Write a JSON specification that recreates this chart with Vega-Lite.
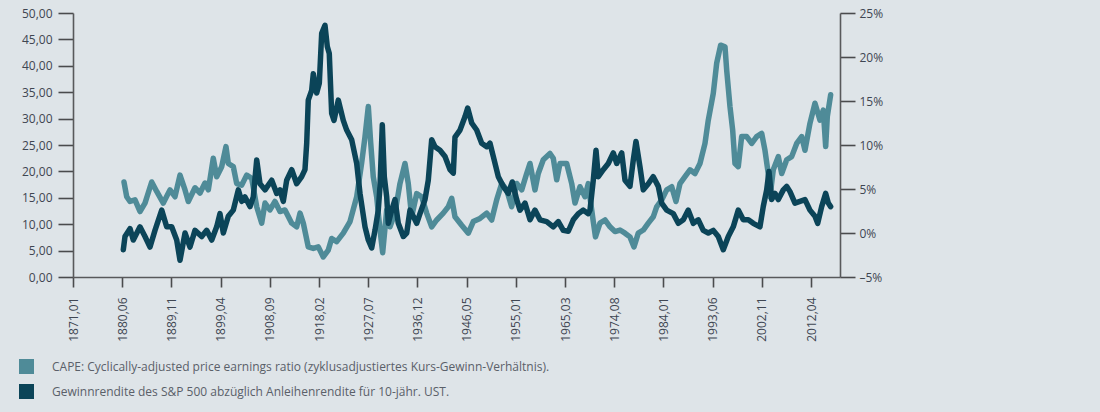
{
  "$schema": "https://vega.github.io/schema/vega-lite/v6.json",
  "autosize": {"type": "none"},
  "padding": {"left": 73, "top": 13, "right": 260, "bottom": 135},
  "width": 767,
  "height": 264,
  "background": "#dee4e8",
  "config": {
    "view": {"stroke": null},
    "axis": {
      "domainColor": "#58595b",
      "domainWidth": 1.6,
      "tickColor": "#4a4b4d",
      "tickWidth": 1.6,
      "tickSize": 15,
      "grid": false,
      "labelFont": "Open Sans",
      "labelFontSize": 12,
      "labelColor": "#3f4652",
      "title": null
    },
    "legend": {
      "labelFont": "Open Sans",
      "labelFontSize": 12,
      "labelColor": "#5a6069"
    }
  },
  "datasets": {
    "cape": [
      {"jahr": 1880.76, "wert": 18.0}, {"jahr": 1881.28, "wert": 15.2}, {"jahr": 1881.91, "wert": 14.3},
      {"jahr": 1882.87, "wert": 14.6}, {"jahr": 1883.82, "wert": 12.4}, {"jahr": 1884.78, "wert": 14.0},
      {"jahr": 1886.06, "wert": 18.0}, {"jahr": 1887.02, "wert": 16.2}, {"jahr": 1888.28, "wert": 14.0},
      {"jahr": 1889.56, "wert": 16.5}, {"jahr": 1890.52, "wert": 15.2}, {"jahr": 1891.48, "wert": 19.3},
      {"jahr": 1892.44, "wert": 16.5}, {"jahr": 1893.07, "wert": 14.3}, {"jahr": 1894.35, "wert": 16.9},
      {"jahr": 1895.31, "wert": 15.9}, {"jahr": 1896.26, "wert": 17.8}, {"jahr": 1896.9, "wert": 16.5},
      {"jahr": 1897.85, "wert": 22.5}, {"jahr": 1898.5, "wert": 19.0}, {"jahr": 1899.46, "wert": 20.9},
      {"jahr": 1900.28, "wert": 24.7}, {"jahr": 1900.72, "wert": 21.5}, {"jahr": 1901.68, "wert": 20.9},
      {"jahr": 1902.33, "wert": 17.7}, {"jahr": 1903.29, "wert": 17.4}, {"jahr": 1904.24, "wert": 19.3},
      {"jahr": 1905.2, "wert": 18.7}, {"jahr": 1906.16, "wert": 13.3}, {"jahr": 1907.12, "wert": 10.2},
      {"jahr": 1907.75, "wert": 14.0}, {"jahr": 1908.7, "wert": 12.7}, {"jahr": 1909.66, "wert": 14.3},
      {"jahr": 1910.62, "wert": 12.4}, {"jahr": 1911.57, "wert": 12.7}, {"jahr": 1912.86, "wert": 10.2},
      {"jahr": 1913.81, "wert": 9.5}, {"jahr": 1914.45, "wert": 12.1}, {"jahr": 1915.08, "wert": 10.2},
      {"jahr": 1916.03, "wert": 5.7}, {"jahr": 1916.99, "wert": 5.4}, {"jahr": 1917.95, "wert": 5.7},
      {"jahr": 1918.9, "wert": 3.8}, {"jahr": 1919.86, "wert": 5.1}, {"jahr": 1920.51, "wert": 7.3},
      {"jahr": 1921.47, "wert": 6.7}, {"jahr": 1922.73, "wert": 8.3}, {"jahr": 1924.02, "wert": 10.5},
      {"jahr": 1925.3, "wert": 15.2}, {"jahr": 1926.25, "wert": 21.6}, {"jahr": 1926.89, "wert": 26.6},
      {"jahr": 1927.52, "wert": 32.3}, {"jahr": 1927.98, "wert": 25.4}, {"jahr": 1928.47, "wert": 19.0},
      {"jahr": 1929.12, "wert": 15.2}, {"jahr": 1929.76, "wert": 8.9}, {"jahr": 1930.27, "wert": 4.6},
      {"jahr": 1931.04, "wert": 12.7}, {"jahr": 1931.67, "wert": 9.5}, {"jahr": 1932.63, "wert": 12.1},
      {"jahr": 1933.58, "wert": 17.7}, {"jahr": 1934.54, "wert": 21.5}, {"jahr": 1935.17, "wert": 17.7},
      {"jahr": 1935.82, "wert": 11.4}, {"jahr": 1936.78, "wert": 15.8}, {"jahr": 1937.74, "wert": 15.2},
      {"jahr": 1938.69, "wert": 12.1}, {"jahr": 1939.65, "wert": 9.5}, {"jahr": 1940.61, "wert": 10.8},
      {"jahr": 1941.87, "wert": 12.1}, {"jahr": 1942.83, "wert": 13.3}, {"jahr": 1943.48, "wert": 14.9},
      {"jahr": 1944.11, "wert": 11.4}, {"jahr": 1945.39, "wert": 9.8}, {"jahr": 1946.66, "wert": 8.3},
      {"jahr": 1947.61, "wert": 10.5}, {"jahr": 1948.9, "wert": 11.1}, {"jahr": 1950.18, "wert": 12.1},
      {"jahr": 1951.13, "wert": 10.8}, {"jahr": 1952.09, "wert": 14.6}, {"jahr": 1953.05, "wert": 17.7},
      {"jahr": 1954.01, "wert": 16.5}, {"jahr": 1954.96, "wert": 13.3}, {"jahr": 1955.92, "wert": 17.7},
      {"jahr": 1956.88, "wert": 16.5}, {"jahr": 1957.83, "wert": 19.6}, {"jahr": 1958.47, "wert": 21.5},
      {"jahr": 1959.42, "wert": 16.5}, {"jahr": 1960.05, "wert": 19.6}, {"jahr": 1961.01, "wert": 22.2},
      {"jahr": 1962.29, "wert": 23.4}, {"jahr": 1962.92, "wert": 22.5}, {"jahr": 1963.58, "wert": 18.4},
      {"jahr": 1964.21, "wert": 21.5}, {"jahr": 1965.49, "wert": 21.5}, {"jahr": 1966.45, "wert": 17.7},
      {"jahr": 1967.08, "wert": 14.0}, {"jahr": 1968.03, "wert": 17.1}, {"jahr": 1968.99, "wert": 15.2},
      {"jahr": 1969.62, "wert": 17.7}, {"jahr": 1970.1, "wert": 14.0}, {"jahr": 1970.58, "wert": 10.5},
      {"jahr": 1971.0, "wert": 7.6}, {"jahr": 1971.86, "wert": 10.2}, {"jahr": 1972.82, "wert": 10.8},
      {"jahr": 1973.78, "wert": 9.5}, {"jahr": 1974.73, "wert": 8.6}, {"jahr": 1975.69, "wert": 8.9},
      {"jahr": 1976.65, "wert": 8.3}, {"jahr": 1977.6, "wert": 7.6}, {"jahr": 1978.37, "wert": 5.7},
      {"jahr": 1979.19, "wert": 8.3}, {"jahr": 1980.15, "wert": 8.9}, {"jahr": 1981.11, "wert": 10.2},
      {"jahr": 1982.06, "wert": 11.4}, {"jahr": 1982.71, "wert": 13.3}, {"jahr": 1983.67, "wert": 14.6},
      {"jahr": 1984.63, "wert": 16.5}, {"jahr": 1985.59, "wert": 17.1}, {"jahr": 1986.41, "wert": 14.3},
      {"jahr": 1987.17, "wert": 17.7}, {"jahr": 1988.13, "wert": 19.0}, {"jahr": 1989.09, "wert": 20.3},
      {"jahr": 1990.04, "wert": 19.6}, {"jahr": 1991.0, "wert": 21.5}, {"jahr": 1991.96, "wert": 25.3},
      {"jahr": 1992.59, "wert": 29.7}, {"jahr": 1993.55, "wert": 34.8}, {"jahr": 1994.2, "wert": 40.5},
      {"jahr": 1994.96, "wert": 43.9}, {"jahr": 1995.79, "wert": 43.6}, {"jahr": 1996.11, "wert": 39.2},
      {"jahr": 1996.74, "wert": 32.3}, {"jahr": 1997.26, "wert": 27.8}, {"jahr": 1997.7, "wert": 21.5},
      {"jahr": 1998.33, "wert": 20.9}, {"jahr": 1998.98, "wert": 26.6}, {"jahr": 1999.94, "wert": 26.6},
      {"jahr": 2000.9, "wert": 25.3}, {"jahr": 2001.85, "wert": 26.6}, {"jahr": 2002.81, "wert": 27.2},
      {"jahr": 2003.44, "wert": 24.0}, {"jahr": 2004.07, "wert": 19.6}, {"jahr": 2004.4, "wert": 15.2},
      {"jahr": 2005.03, "wert": 20.3}, {"jahr": 2005.99, "wert": 22.8}, {"jahr": 2006.64, "wert": 19.6},
      {"jahr": 2007.6, "wert": 22.2}, {"jahr": 2008.55, "wert": 22.8}, {"jahr": 2009.51, "wert": 25.3},
      {"jahr": 2010.47, "wert": 26.6}, {"jahr": 2011.1, "wert": 24.0}, {"jahr": 2012.05, "wert": 29.1},
      {"jahr": 2013.01, "wert": 32.9}, {"jahr": 2013.97, "wert": 29.7}, {"jahr": 2014.6, "wert": 31.6},
      {"jahr": 2015.06, "wert": 24.7}, {"jahr": 2015.37, "wert": 30.4}, {"jahr": 2016.01, "wert": 34.5}
    ],
    "rendite": [
      {"jahr": 1880.63, "wert": -1.9}, {"jahr": 1880.95, "wert": -0.4}, {"jahr": 1881.91, "wert": 0.5},
      {"jahr": 1882.54, "wert": -0.8}, {"jahr": 1883.82, "wert": 0.7}, {"jahr": 1884.78, "wert": -0.4},
      {"jahr": 1885.74, "wert": -1.6}, {"jahr": 1886.69, "wert": 0.3}, {"jahr": 1887.98, "wert": 2.6},
      {"jahr": 1888.93, "wert": 0.7}, {"jahr": 1889.89, "wert": 0.7}, {"jahr": 1890.85, "wert": -0.8},
      {"jahr": 1891.48, "wert": -3.1}, {"jahr": 1892.44, "wert": 0.0}, {"jahr": 1893.39, "wert": -1.6},
      {"jahr": 1894.35, "wert": 0.3}, {"jahr": 1895.63, "wert": -0.4}, {"jahr": 1896.59, "wert": 0.3},
      {"jahr": 1897.55, "wert": -0.8}, {"jahr": 1898.5, "wert": 0.7}, {"jahr": 1899.13, "wert": 2.2},
      {"jahr": 1899.77, "wert": 0.0}, {"jahr": 1900.72, "wert": 1.9}, {"jahr": 1901.68, "wert": 2.6},
      {"jahr": 1902.64, "wert": 4.9}, {"jahr": 1903.29, "wert": 3.6}, {"jahr": 1903.92, "wert": 4.1},
      {"jahr": 1904.88, "wert": 3.0}, {"jahr": 1905.51, "wert": 4.1}, {"jahr": 1906.16, "wert": 8.3},
      {"jahr": 1906.79, "wert": 5.6}, {"jahr": 1907.75, "wert": 4.9}, {"jahr": 1909.03, "wert": 6.0},
      {"jahr": 1909.99, "wert": 4.5}, {"jahr": 1910.62, "wert": 4.9}, {"jahr": 1911.25, "wert": 3.6},
      {"jahr": 1911.9, "wert": 6.0}, {"jahr": 1912.86, "wert": 7.2}, {"jahr": 1913.81, "wert": 5.6},
      {"jahr": 1914.77, "wert": 6.4}, {"jahr": 1915.4, "wert": 7.2}, {"jahr": 1915.73, "wert": 10.2},
      {"jahr": 1916.03, "wert": 15.1}, {"jahr": 1916.68, "wert": 16.2}, {"jahr": 1916.99, "wert": 18.1},
      {"jahr": 1917.64, "wert": 15.9}, {"jahr": 1918.14, "wert": 17.0}, {"jahr": 1918.6, "wert": 22.7},
      {"jahr": 1919.23, "wert": 23.6}, {"jahr": 1919.67, "wert": 21.2}, {"jahr": 1920.05, "wert": 20.4},
      {"jahr": 1920.51, "wert": 13.6}, {"jahr": 1920.95, "wert": 12.8}, {"jahr": 1921.78, "wert": 15.1},
      {"jahr": 1922.73, "wert": 12.8}, {"jahr": 1923.38, "wert": 11.7}, {"jahr": 1924.34, "wert": 10.6},
      {"jahr": 1925.3, "wert": 7.9}, {"jahr": 1925.93, "wert": 4.5}, {"jahr": 1926.89, "wert": 0.7},
      {"jahr": 1927.52, "wert": -0.8}, {"jahr": 1928.17, "wert": -1.7}, {"jahr": 1928.8, "wert": 0.3},
      {"jahr": 1929.43, "wert": 2.6}, {"jahr": 1929.76, "wert": 5.3}, {"jahr": 1930.2, "wert": 12.3},
      {"jahr": 1930.58, "wert": 6.4}, {"jahr": 1931.04, "wert": 4.1}, {"jahr": 1931.35, "wert": 1.1},
      {"jahr": 1932.0, "wert": 2.6}, {"jahr": 1932.63, "wert": 3.8}, {"jahr": 1933.26, "wert": 1.1},
      {"jahr": 1934.22, "wert": -0.4}, {"jahr": 1934.87, "wert": 0.0}, {"jahr": 1935.5, "wert": 2.6},
      {"jahr": 1936.13, "wert": 1.9}, {"jahr": 1936.78, "wert": 1.1}, {"jahr": 1937.41, "wert": 2.2},
      {"jahr": 1938.37, "wert": 3.8}, {"jahr": 1939.0, "wert": 6.0}, {"jahr": 1939.65, "wert": 10.6},
      {"jahr": 1940.28, "wert": 9.8}, {"jahr": 1941.24, "wert": 9.4}, {"jahr": 1942.2, "wert": 8.7},
      {"jahr": 1943.15, "wert": 7.2}, {"jahr": 1943.79, "wert": 6.8}, {"jahr": 1944.11, "wert": 10.9},
      {"jahr": 1945.07, "wert": 11.7}, {"jahr": 1946.02, "wert": 13.2}, {"jahr": 1946.54, "wert": 14.2},
      {"jahr": 1947.31, "wert": 12.5}, {"jahr": 1948.26, "wert": 11.7}, {"jahr": 1949.22, "wert": 10.2},
      {"jahr": 1950.18, "wert": 9.8}, {"jahr": 1950.81, "wert": 10.2}, {"jahr": 1951.44, "wert": 8.7},
      {"jahr": 1952.4, "wert": 6.4}, {"jahr": 1953.36, "wert": 5.3}, {"jahr": 1954.31, "wert": 4.5},
      {"jahr": 1955.08, "wert": 5.8}, {"jahr": 1955.92, "wert": 3.8}, {"jahr": 1956.55, "wert": 2.6},
      {"jahr": 1957.51, "wert": 3.4}, {"jahr": 1958.47, "wert": 1.5}, {"jahr": 1959.42, "wert": 2.6},
      {"jahr": 1960.38, "wert": 1.5}, {"jahr": 1961.66, "wert": 1.3}, {"jahr": 1962.92, "wert": 0.7},
      {"jahr": 1963.88, "wert": 1.3}, {"jahr": 1964.84, "wert": 0.3}, {"jahr": 1965.8, "wert": 0.2},
      {"jahr": 1966.75, "wert": 1.5}, {"jahr": 1967.71, "wert": 2.2}, {"jahr": 1968.67, "wert": 2.6},
      {"jahr": 1969.62, "wert": 2.2}, {"jahr": 1969.95, "wert": 2.6}, {"jahr": 1970.58, "wert": 6.0},
      {"jahr": 1971.1, "wert": 9.4}, {"jahr": 1971.54, "wert": 6.4}, {"jahr": 1972.49, "wert": 7.2},
      {"jahr": 1973.45, "wert": 7.9}, {"jahr": 1974.41, "wert": 9.1}, {"jahr": 1975.06, "wert": 7.9},
      {"jahr": 1976.02, "wert": 9.1}, {"jahr": 1976.65, "wert": 6.0}, {"jahr": 1977.6, "wert": 5.3},
      {"jahr": 1978.24, "wert": 8.3}, {"jahr": 1978.75, "wert": 10.4}, {"jahr": 1979.52, "wert": 7.5},
      {"jahr": 1980.15, "wert": 4.9}, {"jahr": 1981.11, "wert": 5.6}, {"jahr": 1982.06, "wert": 6.4},
      {"jahr": 1983.02, "wert": 5.3}, {"jahr": 1983.67, "wert": 3.4}, {"jahr": 1984.63, "wert": 2.6},
      {"jahr": 1985.89, "wert": 2.2}, {"jahr": 1986.85, "wert": 1.1}, {"jahr": 1987.81, "wert": 1.5},
      {"jahr": 1988.76, "wert": 2.6}, {"jahr": 1989.72, "wert": 1.1}, {"jahr": 1990.68, "wert": 1.5},
      {"jahr": 1991.63, "wert": 0.3}, {"jahr": 1992.59, "wert": 0.0}, {"jahr": 1993.55, "wert": 0.3},
      {"jahr": 1994.5, "wert": -0.4}, {"jahr": 1995.46, "wert": -1.9}, {"jahr": 1996.42, "wert": -0.4},
      {"jahr": 1997.37, "wert": 0.7}, {"jahr": 1998.33, "wert": 2.6}, {"jahr": 1999.29, "wert": 1.5},
      {"jahr": 2000.25, "wert": 1.5}, {"jahr": 2001.2, "wert": 1.1}, {"jahr": 2002.48, "wert": 0.7},
      {"jahr": 2003.11, "wert": 3.0}, {"jahr": 2003.77, "wert": 4.9}, {"jahr": 2004.21, "wert": 7.0},
      {"jahr": 2004.72, "wert": 3.8}, {"jahr": 2005.36, "wert": 4.5}, {"jahr": 2005.99, "wert": 3.8},
      {"jahr": 2006.95, "wert": 4.9}, {"jahr": 2007.6, "wert": 5.3}, {"jahr": 2008.23, "wert": 4.7},
      {"jahr": 2009.18, "wert": 3.4}, {"jahr": 2010.14, "wert": 3.6}, {"jahr": 2011.1, "wert": 3.8},
      {"jahr": 2012.05, "wert": 2.6}, {"jahr": 2013.01, "wert": 1.9}, {"jahr": 2013.53, "wert": 1.1},
      {"jahr": 2014.29, "wert": 3.0}, {"jahr": 2015.06, "wert": 4.5}, {"jahr": 2015.56, "wert": 3.4},
      {"jahr": 2016.01, "wert": 3.0}
    ]
  },
  "encoding": {
    "x": {
      "field": "jahr",
      "type": "quantitative",
      "scale": {"domain": [1871, 2017.8], "nice": false, "zero": false},
      "axis": {
        "values": [1871, 1880.4167, 1889.8333, 1899.25, 1908.6667, 1918.0833, 1927.5, 1936.9167, 1946.3333, 1955.75, 1965.1667, 1974.5833, 1984.0, 1993.4167, 2002.8333, 2012.25],
        "labelExpr": "['1871,01','1880,06','1889,11','1899,04','1908,09','1918,02','1927,07','1936,12','1946,05','1955,01','1965,03','1974,08','1984,01','1993,06','2002,11','2012,04'][round((datum.value - 1871) * 12 / 113)]",
        "labelAngle": -90,
        "tickSize": 10,
        "labelPadding": 10,
        "labelFontSize": 12
      }
    }
  },
  "layer": [
    {
      "data": {"name": "cape"},
      "mark": {"type": "line", "strokeWidth": 5.5, "strokeCap": "round", "strokeJoin": "round"},
      "encoding": {
        "y": {
          "field": "wert",
          "type": "quantitative",
          "scale": {"domain": [0, 50], "nice": false},
          "axis": {
            "orient": "left",
            "values": [0, 5, 10, 15, 20, 25, 30, 35, 40, 45, 50],
            "labelExpr": "replace(format(datum.value, '.2f'), '.', ',')",
            "labelPadding": 6
          }
        },
        "color": {
          "datum": "CAPE",
          "type": "nominal",
          "scale": {"domain": ["CAPE", "Rendite"], "range": ["#4f8b98", "#0b4458"]},
          "legend": {
            "title": null,
            "orient": "none",
            "legendX": -54,
            "legendY": 346,
            "direction": "vertical",
            "symbolType": "square",
            "symbolSize": 225,
            "symbolStrokeWidth": 0,
            "rowPadding": 10,
            "labelOffset": 18,
            "labelLimit": 0,
            "labelExpr": "datum.value == 'CAPE' ? 'CAPE: Cyclically-adjusted price earnings ratio (zyklusadjustiertes Kurs-Gewinn-Verhältnis).' : 'Gewinnrendite des S&P 500 abzüglich Anleihenrendite für 10-jähr. UST.'",
            "encode": {
              "symbols": {"update": {"fill": {"scale": "color", "field": "value"}, "stroke": {"value": "transparent"}, "opacity": {"value": 1}}}
            }
          }
        }
      }
    },
    {
      "data": {"name": "rendite"},
      "mark": {"type": "line", "strokeWidth": 5.5, "strokeCap": "round", "strokeJoin": "round"},
      "encoding": {
        "y": {
          "field": "wert",
          "type": "quantitative",
          "scale": {"domain": [-5, 25], "nice": false, "zero": false},
          "axis": {
            "orient": "right",
            "values": [-5, 0, 5, 10, 15, 20, 25],
            "labelExpr": "(datum.value < 0 ? '–' + abs(datum.value) : datum.value) + '%'",
            "labelPadding": 4
          }
        },
        "color": {"datum": "Rendite", "type": "nominal"}
      }
    }
  ],
  "resolve": {"scale": {"y": "independent"}}
}
